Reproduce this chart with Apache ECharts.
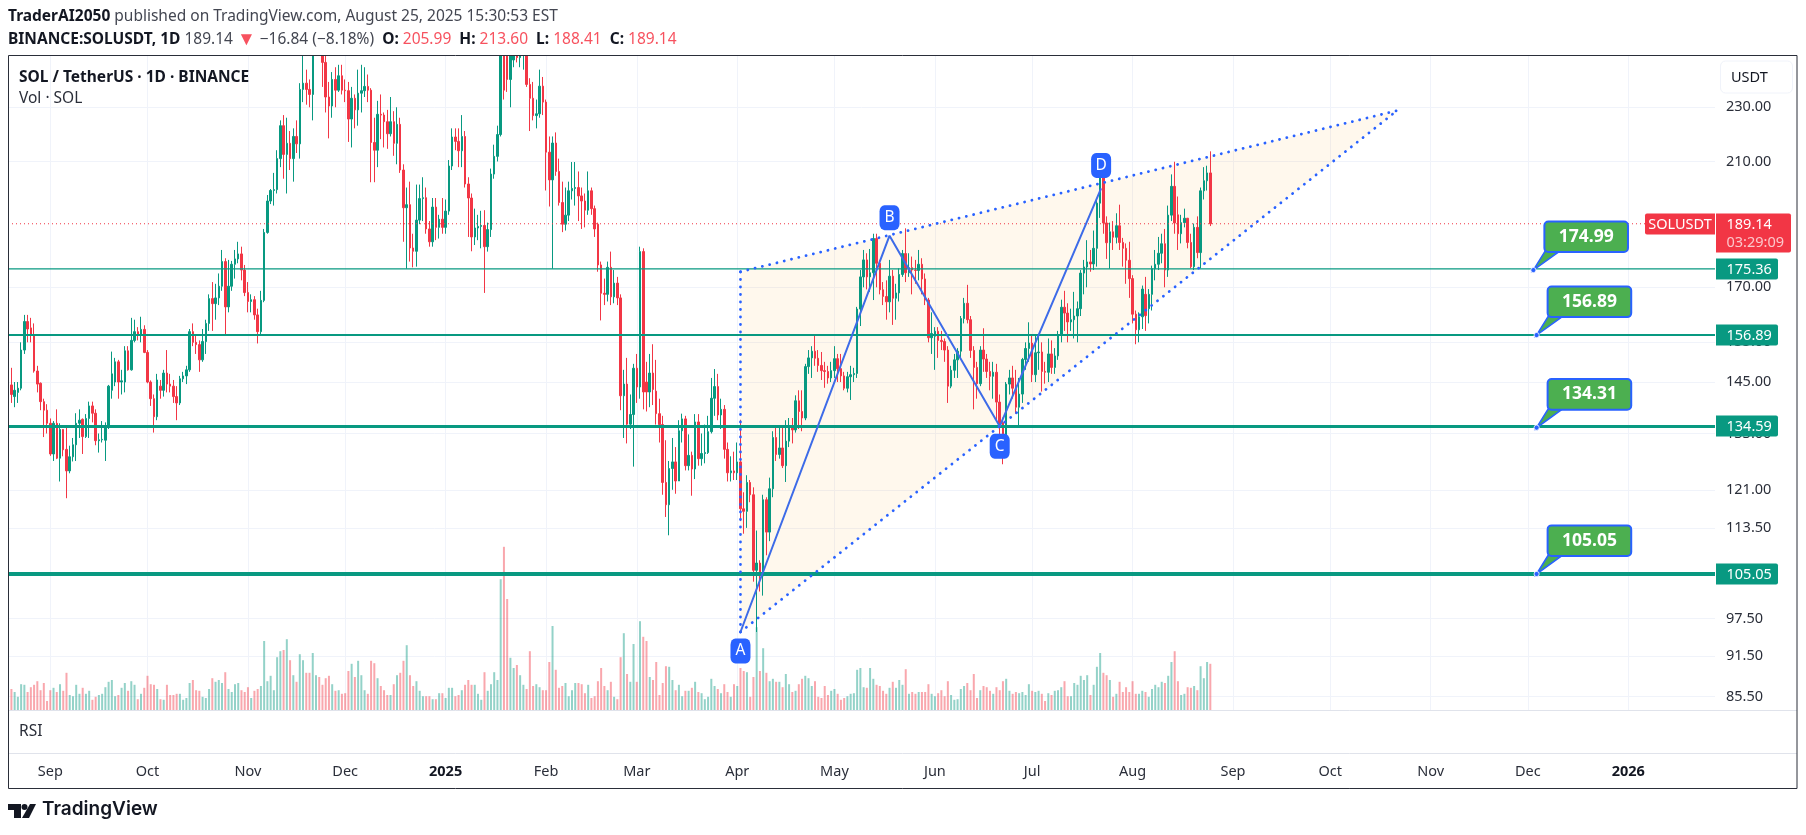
<!DOCTYPE html>
<html><head><meta charset="utf-8">
<style>html,body{margin:0;padding:0;background:#fff}#c{width:1806px;height:835px}</style>
<script src="https://cdn.jsdelivr.net/npm/echarts@6/dist/echarts.min.js"></script>
</head><body><div id="c"></div>
<script>
// rows are daily bars starting at 2024-08-20: [open, close, low, high]
const firstDay = [2024, 7, 20];
const ohlc = [
[144.3,142,140,148.5],[141.5,143,139,145],[142.5,143.5,140,145],[143.5,153,143,155],[153,160.5,152,162.3],[160.5,158.5,155,162.3],[158.8,156.9,155,161.5],[157,147.7,147.3,160],[147.7,144.5,142.5,149],[144.7,140.3,138.3,144.9],
[140.3,138.3,132.2,141],[138.3,135.3,133,139.7],
// Sep 2024
[135.3,128.5,128.1,136.4],[128.5,135.3,127,135.8],[135.3,127.6,127.4,138.5],[127.6,133.9,122.7,135.3],[133.9,129.4,128,134],[129.5,124.9,119.3,134.5],[124.9,127.9,124.4,130.3],[127.9,130.5,126.9,132],[130.5,135.3,127,137.6],[135.3,136,132,138.5],
[136.2,132.3,128.5,136.4],[132.3,136.4,132,137.4],[136.4,139.3,132,140.3],[139.3,137.6,135.5,140.3],[137.6,131.4,130.4,138.5],[131.4,131.6,128.8,133],[131.6,131.7,131,135.8],[131.5,134.6,127,135.5],[134.6,144,134,144.3],[143,147,141,152.6],
[145,150,144,151],[150,145,141,150.5],[145,145.3,142,148],[145,152.8,142.5,154],[152.8,148,147.8,154],[148,155.5,147.8,161.5],[155.5,157.8,155,161],[157.8,156.9,155.5,159],[156.9,158.4,155,161.8],[158.4,152.4,152.2,159.5],
// Oct 2024
[152.4,145,144.7,153],[145,141,139.3,145.4],[141,136.8,133.2,142],[136.8,145.5,136,147],[144,143,141,145.5],[143,147.2,141.5,148],[147.2,144.5,142.5,153],[144.5,144,142.5,147],[144,141.5,140,145.5],[141.5,140,136,144],
[140,145.8,139.5,146.5],[145.8,146.5,145,147.5],[146.5,148,144.5,149],[148,157.8,147.5,158.5],[157.8,155,154,160],[155,154.4,152,157],[154.4,150.5,147.5,155.5],[150.5,155.2,150,158.5],[155.2,160,152,161],[160,166.8,158,168],
[166.8,165.4,158,171.5],[165.4,167,161,171],[167,170.3,165,174],[170.3,177.5,169,181],[177.5,164.5,157,178.5],[164.5,170.3,163,178],[170.3,176.7,169,177.7],[176.7,178.3,172.5,181],[178.3,179.8,177,183.5],[179.8,175,172,182],[175,168.5,167.5,176.5],
// Nov 2024
[168.5,166,163,171.5],[166,166.5,163,168],[166.5,162.3,161,167.5],[162.3,157.8,154.7,164],[157.8,166.3,157,169],[166.3,186.4,165.8,187.5],[186.4,196.5,186,198.5],[196.5,200,195.5,200.5],[200,200.3,195,206],[200.3,211,199,214],
[211,223,208,225],[223,212.5,204,227],[212.5,216.5,199,226],[216.5,211,207,221],[211,219,203,222],[219,216.3,213,225],[216.3,237,211,239.5],[237,239.5,232,251],[239.5,237,231,245],[237,235,230,241],
[235,258,225,264],[256,260,252,264],[260,255,251.5,264],[255,248,238,258],[248,234,228,252],[234,230.5,218.3,240],[230.5,241,226,244],[241,236.7,230,246],[236.7,242.5,236,247],[242.5,236.7,235,247],
// Dec 2024
[236.7,236.5,232,241],[236.5,225.5,217,240],[225.5,233.5,215,238],[233.5,229,222,235],[229,235.5,223,245],[235.5,236.5,228,247],[236.5,238.2,234,246],[238.2,236.7,232,243],[236.7,216.8,202.8,237.5],[216.8,214,202.8,226],
[214,227.3,208,232.5],[227.3,227,218,235],[227,224.5,215,228],[224.5,220,214.5,229],[220,224.5,219,234],[224.5,216.5,212,228.5],[216.5,223.5,209,230],[223.5,207,206,226],[207,194.3,183.5,209],[194.3,195.3,175.4,201],
[195.3,181.6,177.5,203],[181.6,180.6,175.8,186],[180.6,190.3,176,202],[190.3,197.3,189,202],[197.3,197.6,190,204.5],[197.6,187.5,186,201],[187.5,183.5,182,190],[183.5,194.5,182,197.5],[194.5,188,184,197.5],[188,190.6,184.5,192],[190.6,188,186,197.5],
// Jan 2025
[188,193.2,186,197],[193.2,208.4,192,210.5],[208.4,218.8,207,222],[218.8,217.2,214,222],[217.2,213.8,208,222],[213.8,219,208,227],[219,202.2,201,221],[202.2,197.5,185,204.5],[197.5,185,180.6,199],[185,187.8,182.5,194],
[187.8,188.3,184,192],[188.3,188.6,181.5,193.3],[188.6,182,168.4,193.5],[182,187.3,180.5,189.5],[187.3,205.6,185,207.5],[205.6,211.8,204,216],[211.8,219.7,210,223],[219.7,258,219,270],[258,236.7,233,295],[255,241,236,265],
[241,251,230,256],[249,252,246,257],[252,250,248,258],[250,253,246,258],[251,254,245,260],[254,239,238,258],[239,233.5,221,241.5],[233.5,226.8,225,240],[226.8,227.5,222,233],[227.5,238.3,226,245],[238.3,232,227,242],
// Feb 2025
[232,213.3,200,233],[213.3,203.6,194.7,219],[203.6,216.6,175.4,219],[216.6,206.5,205,220.5],[206.5,196,195,211],[196,189,186.5,203],[189,191.9,187,201],[191.9,199.9,190,203],[199.9,200.7,197,209.8],[200.7,201,195,209.8],
[201,198.2,190,206.5],[198.2,196.5,187.5,201],[196.5,193.5,188,199],[193.5,199.9,192,206.5],[199.9,194,192,201],[194,187.5,185,195],[189,176.5,174.5,189.5],[176.5,168.3,160.8,177.5],[168.3,168,165,172.5],[168,175.8,166,177.5],
[175.8,167.3,165,180.5],[167.3,171.2,165.5,175],[171.2,167,165,173],[167,141.7,138.3,168],[141.7,144.5,132,148],[144.5,135.1,130.8,151],[135.1,137.3,134,142],[137.3,148.4,125.8,149.5],
// Mar 2025
[148.4,143.8,140,152],[143.8,180.5,141,182],[180.5,142.6,138.5,181.5],[145,142.6,138,150],[142.6,147.2,139,152],[147.2,143.2,139.5,154.5],[142.8,137.5,135,150.5],[137.5,135,131,141],[135,122.5,120,137],[122.5,118,115.6,131.5],
[118,125.4,112.1,127],[125.4,126.8,121,132],[126.8,122.8,120.2,130],[122.8,133.6,123,136],[133.6,136.3,131,137.5],[136.3,126,125,137],[126,128.2,125,132.8],[128.2,125.3,119.8,129],[125.3,135.6,123.2,137.4],[135.6,127.5,126,137.4],
[127.5,128.6,126,133],[128.6,128.8,126.5,135],[128.8,133.4,128.5,137],[133.4,141.1,133,146],[141.1,143.9,137,148.2],[143.9,137.2,136,147],[137.2,138.5,134,141],[138.5,129.5,127.5,139.5],[129.5,124.5,122.7,131],[124.5,124.9,122.7,128],[124.9,124.5,123,129],
// Apr 2025
[124.5,126.8,123,131],[126.8,117.2,114.8,136.1],[117.2,116.7,112.4,120.5],[116.7,122.5,113.5,124],[122.5,120,118.5,123],[120,105.7,103.7,121.5],[105.7,107,95.3,113],[107,104.7,102,107.5],[104.7,119,101.3,120],[119,112.7,108.4,119.5],
[112.7,121.2,111,123.5],[121.2,132.1,119.5,133.5],[132.1,128.4,127,134.5],[128.4,129.8,127.5,134.6],[129.8,126,125.5,134.6],[126,131.3,122.6,136],[131.3,134.6,130,136.5],[134.6,133.8,130.8,136.5],[133.8,140.5,133.2,141.8],[140.5,138,134,143],
[138,136.5,133.5,143],[136.5,148.8,136,149.5],[148.8,151,147,153],[151,152.7,146,154],[152.7,150.9,149,156.9],[150.9,149.1,147.5,153],[149.1,147.8,145.5,152.5],[147.8,147.6,143.6,150],[147.6,146,144.6,149],[146,147.8,145,150],
// May 2025
[147.8,150.8,146,154],[150.8,148.3,145,152],[148.3,146.5,145,152],[146.5,143.5,143,147.5],[143.5,146.3,142.5,147.5],[146.3,146.8,140.7,149],[146.8,147.1,145,148.5],[147.1,163.9,146,164.5],[163.9,173,159.3,175],[173,178,170,181],
[178,173,169.4,180],[173,174.2,168.7,181.3],[174.2,184.5,166.4,186],[184.5,177,170,186],[177,169.3,168,178],[169.3,167.4,165,171.5],[167.4,165.9,161,172],[165.9,173.2,163,178],[173.2,166.9,159.6,175],[166.9,168.4,161,171],
[168.4,173.7,166,175.5],[173.7,179.9,173,181],[179.9,174.2,171.5,187.7],[174.2,175.7,173,180],[175.7,175,168,179],[175,174.9,171,178],[174.9,176.7,172,181],[176.7,172.4,168,178.5],[172.4,166.4,165,174],[166.4,156.2,155,167],[156.2,157.3,152,163],
// Jun 2025
[156.6,157.9,148,159],[157.9,155.5,151,159],[155.5,155.2,153,158],[155.2,153,150,156],[153,144,140,154],[144,147.9,143.5,149],[147.9,150.5,146,152],[150.5,152.7,146,153.5],[152.7,161.3,151,162],[161.3,165.5,160,167],
[165.5,161,160,170.7],[161,152.9,151,162],[152.9,148.6,138.5,154],[148.6,144.6,141,150],[144.6,153,144,154],[153,150.7,147.5,158.7],[150.7,147.6,146,152],[147.6,146.4,143,150],[146.4,147.4,141,150],[147.4,140.2,136,149.5],
[140.2,135.1,131.8,142],[135.5,131.4,126.3,136.6],[131.4,144.5,130.6,145],[144.5,146,142,148],[146,143.5,141,149],[143.5,139,137.5,148],[139,142.1,134.7,146],[142.1,150.6,140,151],[150.6,153.4,148,155],[153.4,154.8,150,160.3],
// Jul 2025
[154.8,146.8,145,157],[146.8,152.3,145,157],[152.3,152.5,148,157],[152.5,147.6,142.7,155],[147.6,147.4,144.6,150],[147.4,152,145,156],[152,148.6,147,155.5],[148.6,151.5,147,153.5],[151.5,157,150.5,158],[157,164.4,155,166.5],
[164.4,162.8,158,169],[162.8,160.4,155,165.5],[160.4,161,158,164],[161,162,156,168.7],[162,164,155,166],[164,174.1,162,175],[174.1,175.9,168,178],[175.9,177.4,170,184],[177.4,176.8,174.5,181],[176.8,181.5,175,187],
[181.5,195.8,176,197],[195.8,205,191,206.5],[205,189.4,186,206],[189.4,183.2,178.3,191.5],[183.2,186.6,175.4,189.5],[186.6,184.9,181,190],[184.9,188.5,183,192.5],[188.5,183.3,181,195.3],[183.3,181.5,176,184.7],[181.5,177.9,171,183],[177.9,172.5,167,183.5],
// Aug 2025
[172.5,162.5,160,173.5],[162.5,158.3,154.5,163.5],[158.3,161.8,155,163],[161.8,169.5,158.5,170.5],[168,162.1,158,173],[164,168,160,169.5],[168,175.4,163.5,176.3],[175.4,176.7,172,181],[176.7,180,175,185],[180,182.9,177,186],
[182.9,175,170,187.5],[175,191.9,173,195],[191.9,201.4,190,205.5],[201.4,189.4,186,209.9],[192,186,181,198],[186,189.5,183,192],[189.5,190.9,188,194],[190.9,183.3,181.5,191],[183.3,176,175.5,186],[176,188,175,189.2],
[188,180.2,178.5,191.5],[180.2,199.9,175.5,201],[199.9,203.3,197,208],[203.3,205.99,200,208.5],[205.99,189.14,188.41,213.6]
];
const volumes = [
3.5,3.0,2.2,4.3,4.2,3.0,3.8,4.2,4.8,3.3,4.5,1.5,3.3,3.7,3.0,4.3,3.2,6.2,2.5,2.3,4.2,2.7,3.7,2.7,3.2,1.7,2.2,2.5,2.7,3.8,
4.7,5.0,2.3,2.5,3.7,4.5,3.2,4.8,4.2,1.8,2.7,3.7,5.7,4.3,4.2,3.5,1.8,1.7,4.2,2.5,2.5,2.7,2.7,1.7,2.0,4.5,5.0,3.3,3.2,2.2,
2.0,3.5,5.3,4.7,5.0,4.5,6.3,3.5,3.0,4.3,4.5,3.3,3.0,3.8,2.0,3.2,3.5,4.0,11.5,4.8,5.7,3.3,8.8,9.8,10,11.8,8.3,5.8,4.7,9.3,
8.3,6.2,6.2,9.5,5.8,5.5,4.2,5.3,5.7,4.3,3.2,3.3,2.7,2.8,6.5,7.7,5.5,8.2,5.8,3.3,2.7,8.2,7.8,5.3,4.0,3.3,2.5,2.5,4.3,5.8,
6.2,8.2,10.8,5.8,4.0,4.8,3.2,2.3,2.3,2.3,1.8,1.8,2.8,2.8,2.0,3.7,3.7,2.3,2.5,3.3,4.2,5.0,4.2,4.2,2.7,1.7,6.3,3.2,4.3,6.3,5.0,21.8,
27.2,18.5,8.7,7,7.5,5.8,4.2,3.5,9.8,4,4.3,3.8,3.3,3.3,8,14,6.7,3.7,4,4.5,2.3,3.3,4.5,4.5,4.3,2.8,4.2,2,2.3,4.8,7,4,3.3,4.7,2.2,1.8,
8.8,12.8,6,4.7,11,4.7,14.8,12.2,11.5,5.5,5,8,2.5,4.5,7.3,7.2,5,3.3,4.2,2.3,3.2,3.2,3.7,4.7,3,2.8,1.8,2.2,5.2,4,3.5,2.8,4.3,3,2.2,4.3,
4,7,6.5,6.3,2.2,5.5,13.8,6.5,10.3,6.2,4.8,5.2,4.7,4.7,3.8,6,4.3,3,3.2,4.3,5.2,5.7,5.3,4,4.8,2.2,2,4,2.5,3.2,3.5,2.7,1.7,2,2.3,
2.7,2.8,6.7,7,3.8,3.7,7,5.2,4.2,4,3.2,2.7,3.7,4.7,3.7,5,4.2,6.8,2.7,3,2.7,3,3,3,4.3,2.7,2.3,2.8,3.3,2.3,4.8,2.5,1.7,1.8,3.5,4,4.5,3.3,6,2,3.3,4,3.8,3.2,2.7,3.8,3.3,4.8,5.2,3.2,2.7,3,2.8,3,2.5,4.3,
3.2,3,3.2,2.7,1.5,2.8,2.5,3.2,3.3,3.8,4.8,2.3,2.3,4.5,4.2,5.7,5,5.8,2.5,4.2,7.2,9.5,6.2,5.8,5,2.2,2.7,4.7,3,3.8,3,4.8,2.7,2.7,3.2,3,2.2,3.5,4.2,3.8,4.7,4.5,5.7,8,9.8,4.8,2.5,2.7,3.8,3.7,4,3.3,7.3,5.3,8,7.7
];
const priceTicks = [230,210,170,155,145,133,121,113.5,105,97.5,91.5,85.5];
const timeTicks = [[2024,8,1,'Sep'],[2024,9,1,'Oct'],[2024,10,1,'Nov'],[2024,11,1,'Dec'],[2025,0,1,'2025'],[2025,1,1,'Feb'],[2025,2,1,'Mar'],[2025,3,1,'Apr'],[2025,4,1,'May'],[2025,5,1,'Jun'],[2025,6,1,'Jul'],[2025,7,1,'Aug'],[2025,8,1,'Sep'],[2025,9,1,'Oct'],[2025,10,1,'Nov'],[2025,11,1,'Dec'],[2026,0,1,'2026']];
const levelPrices = [175.36,156.89,134.59,105.05];
const levelWidths = [1.3,2,3,4];
const lastPrice = 189.14;
const calloutValues = [174.99,156.89,134.31,105.05];
const calloutDays = [[2025,11,2.7],[2025,11,3.7],[2025,11,3.7],[2025,11,3.7]];
const abcdLabels = ['A','B','C','D'];
const abcdDays = [[2025,3,2],[2025,4,18],[2025,5,21],[2025,6,22.3]];
const abcdPrices = [95.3,185.4,134.6,200.7];
const wedgeTopLeft = [[2025,3,2],174.5];
const wedgeApex = [[2025,9,21.6],228.7];

const DOWN='#f23645', UP='#089981', GRID='#f0f3fa', BLUE='#2962ff', FONT='"Noto Sans",sans-serif';
const DAY=864e5;
const ms = (y,m,d)=> { const w=Math.floor(d); return new Date(y,m,w).getTime()+(d-w)*DAY; };
const TT = a => ms(a[0],a[1],a[2]);
const dates = ohlc.map((_,i)=>new Date(firstDay[0],firstDay[1],firstDay[2]+i).getTime());
const xMin = ms(2024,7,19) - 0.05*DAY, xMax = ms(2026,0,27) + 0.75*DAY;
const tickMs = timeTicks.map(TT);
const tickName = new Map(timeTicks.map(t=>[TT(t),t[3]]));

const candleData = ohlc.map((r,i)=>[dates[i],r[0],r[1],r[2],r[3]]);
const volUp = [], volDown = [];
ohlc.forEach((r,i)=>{ (r[1]>=r[0]?volUp:volDown).push([dates[i],volumes[i]]); });

const A=[TT(abcdDays[0]),abcdPrices[0]], B=[TT(abcdDays[1]),abcdPrices[1]], C=[TT(abcdDays[2]),abcdPrices[2]], D=[TT(abcdDays[3]),abcdPrices[3]];
const TL=[TT(wedgeTopLeft[0]),wedgeTopLeft[1]], AP=[TT(wedgeApex[0]),wedgeApex[1]];
const dots={type:[0.1,7.4],width:2.8,color:BLUE,cap:'round'};
const lineBase={type:'line',showSymbol:false,silent:true,animation:false};
const markOffsets=[19,-18,20,-23];

const series=[
 {type:'custom',name:'wedge',z:1,silent:true,data:[TL,AP,A],encode:{x:0,y:1},
  renderItem(p,api){ if(p.dataIndex!==0) return null;
    const pts=[TL,AP,A].map(v=>api.coord(v));
    return {type:'polygon',shape:{points:pts},style:{fill:'rgba(255,152,0,0.07)'}}; }},
 {type:'bar',name:'VolUp',xAxisIndex:0,yAxisIndex:1,data:volUp,barWidth:2,z:2,silent:true,itemStyle:{color:'rgba(8,153,129,0.44)'},barGap:'-100%'},
 {type:'bar',name:'VolDown',xAxisIndex:0,yAxisIndex:1,data:volDown,barWidth:2,z:2,silent:true,itemStyle:{color:'rgba(242,54,69,0.44)'},barGap:'-100%'},
 {type:'candlestick',name:'SOLUSDT',data:candleData,encode:{x:0,y:[1,2,3,4]},barWidth:2,z:3,silent:true,progressive:0,
  itemStyle:{color:UP,color0:DOWN,borderColor:UP,borderColor0:DOWN,borderWidth:1}},
 Object.assign({},lineBase,{name:'last',z:4,data:[[xMin,lastPrice],[xMax,lastPrice]],lineStyle:{color:DOWN,width:1,type:[1,3]}}),
 ...levelPrices.map((p,i)=>Object.assign({},lineBase,{name:'lvl'+p,z:5,data:[[xMin,p],[xMax,p]],lineStyle:{color:UP,width:levelWidths[i]}})),
 Object.assign({},lineBase,{name:'top',z:6,data:[TL,AP],lineStyle:dots}),
 Object.assign({},lineBase,{name:'bottom',z:6,data:[A,AP],lineStyle:dots}),
 Object.assign({},lineBase,{name:'left',z:6,data:[A,TL],lineStyle:dots}),
 Object.assign({},lineBase,{name:'abcd',z:6,data:[A,B,C,D],lineStyle:{color:'#3d6be8',width:2}}),
 {type:'scatter',name:'marks',z:8,silent:true,data:[A,B,C,D].map((v,i)=>({value:v,name:abcdLabels[i],symbolOffset:[0,markOffsets[i]]})),
  symbol:'roundRect',symbolSize:[20,25],itemStyle:{color:BLUE,opacity:1},
  label:{show:true,position:'inside',color:'#fff',fontFamily:FONT,fontSize:15.5,formatter:p=>p.name}},
 {type:'custom',name:'callouts',z:9,silent:true,data:calloutValues.map((v,i)=>[TT(calloutDays[i]),v]),encode:{x:0,y:1},clip:false,
  renderItem(p,api){ const a=api.coord([api.value(0),api.value(1)]); const x=a[0],y=a[1];
    return {type:'group',children:[
      {type:'polygon',shape:{points:[[x,y],[x+13,y-21],[x+25,y-18]]},style:{fill:'#4caf50',stroke:BLUE,lineWidth:1.6},z2:1},
      {type:'rect',shape:{x:x+11,y:y-48.6,width:83.6,height:30.6,r:4},style:{fill:'#4caf50',stroke:BLUE,lineWidth:2},z2:2},
      {type:'text',x:x+52.8,y:y-33.3,style:{text:calloutValues[p.dataIndex].toFixed(2),fill:'#fff',font:'bold 17.5px '+FONT,textAlign:'center',textVerticalAlign:'middle'},z2:3},
      {type:'circle',shape:{cx:x,cy:y,r:2.6},style:{fill:BLUE,stroke:'#fff',lineWidth:0.8},z2:4}
    ]}; }},
 {type:'custom',name:'axisTags',z:10,silent:true,data:levelPrices.map(v=>[xMax,v]),encode:{x:0,y:1},clip:false,
  renderItem(p,api){ const a=api.coord([api.value(0),api.value(1)]); const y=Math.round(a[1]); const x=p.coordSys.x+p.coordSys.width;
    return {type:'group',children:[
      {type:'rect',shape:{x:x+1,y:y-10.5,width:62,height:21,r:[0,2,2,0]},style:{fill:UP}},
      {type:'text',x:x+11.5,y:y+0.5,style:{text:levelPrices[p.dataIndex].toFixed(2),fill:'#fff',font:'14.5px '+FONT,textAlign:'left',textVerticalAlign:'middle'}}
    ]}; }},
 {type:'custom',name:'lastTag',z:11,silent:true,data:[[xMax,lastPrice]],encode:{x:0,y:1},clip:false,
  renderItem(p,api){ const a=api.coord([api.value(0),api.value(1)]); const y=Math.round(a[1]); const x=p.coordSys.x+p.coordSys.width;
    return {type:'group',children:[
      {type:'rect',shape:{x:x-70,y:y-10.5,width:70,height:21,r:[2,0,0,2]},style:{fill:DOWN}},
      {type:'text',x:x-35,y:y+0.5,style:{text:'SOLUSDT',fill:'#fff',font:'14.5px '+FONT,textAlign:'center',textVerticalAlign:'middle'}},
      {type:'rect',shape:{x:x+1,y:y-10.5,width:75,height:39,r:[0,2,2,0]},style:{fill:DOWN}},
      {type:'text',x:x+11.5,y:y+0.5,style:{text:lastPrice.toFixed(2),fill:'#fff',font:'14.5px '+FONT,textAlign:'left',textVerticalAlign:'middle'}},
      {type:'text',x:x+11.5,y:y+18.5,style:{text:'03:29:09',fill:'rgba(255,255,255,0.72)',font:'14.5px '+FONT,textAlign:'left',textVerticalAlign:'middle'}}
    ]}; }}
];

const FS=15.5;
const rich={b:{fontFamily:FONT,fontSize:FS,fontWeight:'bold',fill:'#131722',color:'#131722'},r:{fontFamily:FONT,fontSize:FS,fill:'#f7525f',color:'#f7525f'},n:{fontFamily:FONT,fontSize:FS,fill:'#434651',color:'#434651'},t:{fontFamily:FONT,fontSize:19,fill:'#f7525f',color:'#f7525f'}};
const hdr={fontFamily:FONT,fontSize:FS,fill:'#434651'};
const sep={stroke:'#e0e3eb',lineWidth:1};
const graphic=[
 {type:'rect',z:14,shape:{x:0,y:0,width:1806,height:55},style:{fill:'#fff'}},
 {type:'text',left:8,top:9,z:20,style:Object.assign({},hdr,{rich,text:'{b|TraderAI2050} {n|published on TradingView.com, August 25, 2025 15:30:53 EST}'})},
 {type:'text',left:8,top:30,z:20,style:Object.assign({},hdr,{rich,text:'{b|BINANCE:SOLUSDT, 1D} {n|189.14} {t|▼} {n|−16.84 (−8.18%)}  {b|O:} {r|205.99}  {b|H:} {r|213.60}  {b|L:} {r|188.41}  {b|C:} {r|189.14}'})},
 {type:'text',left:19,top:70,z:20,style:{text:'SOL / TetherUS · 1D · BINANCE',fontFamily:FONT,fontSize:FS,fontWeight:'bold',fill:'#131722'}},
 {type:'text',left:19,top:91,z:20,style:{text:'Vol · SOL',fontFamily:FONT,fontSize:FS,fill:'#2a2e39'}},
 {type:'text',left:19,top:724,z:20,style:{text:'RSI',fontFamily:FONT,fontSize:FS,fill:'#2a2e39'}},
 {type:'line',z:15,shape:{x1:8,y1:710.5,x2:1797,y2:710.5},style:sep},
 {type:'line',z:15,shape:{x1:8,y1:753.5,x2:1797,y2:753.5},style:sep},
 {type:'rect',z:16,shape:{x:8.5,y:55.5,width:1788.5,height:733},style:{fill:'none',stroke:'#2a2e39',lineWidth:1}},
 {type:'rect',z:16,shape:{x:1720.5,y:61,width:72,height:32,r:5},style:{fill:'#fff',stroke:'#f0f3fa',lineWidth:1}},
 {type:'text',z:17,left:1731,top:70,style:{text:'USDT',fontFamily:FONT,fontSize:14.5,fill:'#131722'}},
 {type:'polygon',z:20,shape:{points:[[8,804],[21,804],[21,818],[14,818],[14,810],[8,810]]},style:{fill:'#131722'}},
 {type:'circle',z:20,shape:{cx:24.5,cy:807,r:3},style:{fill:'#131722'}},
 {type:'polygon',z:20,shape:{points:[[30,804],[36,804],[29,818],[22,818]]},style:{fill:'#131722'}},
 {type:'text',z:20,left:42,top:800,style:{text:'TradingView',fontFamily:'Inter,"Noto Sans",sans-serif',fontSize:19,fontWeight:600,fill:'#131722'}}
];

const chart=echarts.init(document.getElementById('c'),null,{renderer:'canvas'});
chart.setOption({
 animation:false,backgroundColor:'#fff',
 grid:{left:8,right:91,top:55,bottom:125,containLabel:false},
 xAxis:{type:'value',min:xMin,max:xMax,scale:true,
   axisLine:{show:false},axisTick:{show:false,customValues:tickMs},
   splitLine:{show:true,lineStyle:{color:GRID,width:1}},
   axisLabel:{customValues:tickMs,margin:54,color:'#2a2e39',fontFamily:FONT,fontSize:14.5,hideOverlap:false,showMinLabel:true,showMaxLabel:true,
     formatter:v=>{const n=tickName.get(v)||''; return /^\d/.test(n)?'{b|'+n+'}':n;},
     rich:{b:{fontWeight:'bold',color:'#131722',fontFamily:FONT,fontSize:14.5}}}},
 yAxis:[
  {type:'log',logBase:10,position:'right',min:83.6,max:251.1,
   axisLine:{show:false},axisTick:{show:false,customValues:priceTicks},
   splitLine:{show:true,lineStyle:{color:GRID,width:1}},minorTick:{show:false},minorSplitLine:{show:false},
   axisLabel:{customValues:priceTicks,margin:11,padding:[2,0,0,0],color:'#2a2e39',fontFamily:FONT,fontSize:14.5,showMinLabel:true,showMaxLabel:true,hideOverlap:false,
     formatter:v=>Number(v).toFixed(2)}},
  {type:'value',min:0,max:109.17,show:false,splitLine:{show:false}}
 ],
 graphic,series
});
</script></body></html>
